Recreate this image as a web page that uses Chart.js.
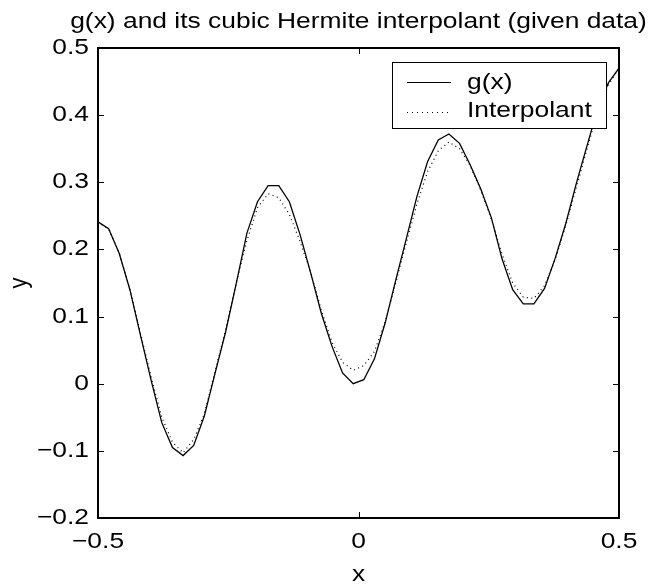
<!DOCTYPE html>
<html>
<head>
<meta charset="utf-8">
<script src="https://cdn.jsdelivr.net/npm/chart.js@4.4.1/dist/chart.umd.min.js"></script>
<style>
  html, body { margin: 0; padding: 0; background: #fff; }
  #wrap { width: 653px; height: 586px; }
</style>
</head>
<body>
<div id="wrap"><canvas id="myChart"></canvas></div>
<script>
// sample points (x), g(x) and the interpolant
var xs = [-0.5, -0.4796, -0.4592, -0.4388, -0.4184, -0.3980, -0.3776, -0.3571, -0.3367, -0.3163,
          -0.2959, -0.2755, -0.2551, -0.2347, -0.2143, -0.1939, -0.1735, -0.1531, -0.1327, -0.1122,
          -0.0918, -0.0714, -0.0510, -0.0306, -0.0102, 0.0102, 0.0306, 0.0510, 0.0714, 0.0918,
          0.1122, 0.1327, 0.1531, 0.1735, 0.1939, 0.2143, 0.2347, 0.2551, 0.2755, 0.2959,
          0.3163, 0.3367, 0.3571, 0.3776, 0.3980, 0.4184, 0.4388, 0.4592, 0.4796, 0.5];
var gValues = [0.241, 0.231, 0.194, 0.140, 0.072, 0.005, -0.058, -0.095, -0.107, -0.092,
               -0.048, 0.015, 0.077, 0.149, 0.224, 0.271, 0.295, 0.295, 0.271, 0.222,
               0.165, 0.105, 0.056, 0.016, 0.000, 0.006, 0.037, 0.090, 0.154, 0.216,
               0.279, 0.331, 0.363, 0.372, 0.358, 0.326, 0.290, 0.247, 0.186, 0.140,
               0.119, 0.119, 0.142, 0.187, 0.239, 0.299, 0.355, 0.410, 0.448, 0.470];
var interpValues = [0.241, 0.230, 0.195, 0.141, 0.075, 0.010, -0.050, -0.087, -0.103, -0.083,
                    -0.045, 0.018, 0.080, 0.150, 0.213, 0.262, 0.283, 0.277, 0.252, 0.212,
                    0.166, 0.110, 0.062, 0.032, 0.020, 0.027, 0.048, 0.092, 0.150, 0.210,
                    0.268, 0.316, 0.347, 0.360, 0.350, 0.325, 0.288, 0.245, 0.193, 0.150,
                    0.129, 0.127, 0.146, 0.185, 0.236, 0.293, 0.350, 0.405, 0.445, 0.470];
var xTicks = [-0.5, 0, 0.5];
var yTicks = [-0.2, -0.1, 0, 0.1, 0.2, 0.3, 0.4, 0.5];
var titleText = 'g(x) and its cubic Hermite interpolant (given data)';
var xLabel = 'x';
var yLabel = 'y';
var legendLabels = ['g(x)', 'Interpolant'];

var FONT = '22px "Liberation Sans", Arial, Helvetica, sans-serif';
var STRETCH = 1.2; // the original text is a bit wide

function fmt(v) {
    var s = String(Math.round(v * 10) / 10);
    return s.charAt(0) == '-' ? '\u2212' + s.slice(1) : s;
}

function toPoints(ys) {
    var pts = [];
    for (var i = 0; i < xs.length; i++) pts.push({x: xs[i], y: ys[i]});
    return pts;
}

function wideText(ctx, text, x, y, align, baseline) {
    ctx.save();
    ctx.translate(x, y);
    ctx.scale(STRETCH, 1);
    ctx.textAlign = align;
    ctx.textBaseline = baseline;
    ctx.fillText(text, 0, 0);
    ctx.restore();
}

// box round the axes, inward ticks, labels, title and legend (matlab look)
var matlabPlugin = {
    id: 'matlab',
    afterDraw: function(chart) {
        var ctx = chart.ctx, a = chart.chartArea;
        var sx = chart.scales.x, sy = chart.scales.y;
        ctx.save();
        ctx.strokeStyle = '#000';
        ctx.lineWidth = 2;
        ctx.strokeRect(Math.round(a.left), Math.round(a.top),
                       Math.round(a.right - a.left), Math.round(a.bottom - a.top));
        ctx.lineWidth = 1;
        ctx.beginPath();
        xTicks.forEach(function(t) {
            var px = Math.round(sx.getPixelForValue(t)) + 0.5;
            ctx.moveTo(px, a.bottom); ctx.lineTo(px, a.bottom - 6);
            ctx.moveTo(px, a.top); ctx.lineTo(px, a.top + 6);
        });
        yTicks.forEach(function(t) {
            var py = Math.round(sy.getPixelForValue(t)) + 0.5;
            ctx.moveTo(a.left, py); ctx.lineTo(a.left + 6, py);
            ctx.moveTo(a.right, py); ctx.lineTo(a.right - 6, py);
        });
        ctx.stroke();

        ctx.fillStyle = '#000';
        ctx.font = FONT;
        xTicks.forEach(function(t) {
            wideText(ctx, fmt(t), sx.getPixelForValue(t), a.bottom + 30, 'center', 'alphabetic');
        });
        yTicks.forEach(function(t) {
            wideText(ctx, fmt(t), a.left - 9, sy.getPixelForValue(t), 'right', 'middle');
        });
        wideText(ctx, xLabel, (a.left + a.right) / 2, a.bottom + 63, 'center', 'alphabetic');
        ctx.save();
        ctx.translate(20, (a.top + a.bottom) / 2);
        ctx.rotate(-Math.PI / 2);
        ctx.scale(1, STRETCH);
        ctx.textAlign = 'center';
        ctx.textBaseline = 'middle';
        ctx.fillText(yLabel, 0, 0);
        ctx.restore();

        // title
        wideText(ctx, titleText, (a.left + a.right) / 2, a.top - 20, 'center', 'alphabetic');

        // legend
        var lx = 392, ly = 62, lw = 214, lh = 66;
        ctx.fillStyle = '#fff';
        ctx.fillRect(lx, ly, lw, lh);
        ctx.lineWidth = 1;
        ctx.strokeRect(lx + 0.5, ly + 0.5, lw, lh);
        ctx.beginPath();
        ctx.moveTo(407, 82.5); ctx.lineTo(451, 82.5);
        ctx.stroke();
        ctx.setLineDash([1, 4]);
        ctx.beginPath();
        ctx.moveTo(407, 112.5); ctx.lineTo(451, 112.5);
        ctx.stroke();
        ctx.setLineDash([]);
        ctx.fillStyle = '#000';
        wideText(ctx, legendLabels[0], 467, 83, 'left', 'middle');
        wideText(ctx, legendLabels[1], 467, 111, 'left', 'middle');
        ctx.restore();
    }
};

var config = {
    type: 'line',
    data: {
        datasets: [{
            label: legendLabels[0],
            data: toPoints(gValues),
            borderColor: '#000',
            borderWidth: 1.3,
            pointRadius: 0,
            tension: 0,
            fill: false
        }, {
            label: legendLabels[1],
            data: toPoints(interpValues),
            borderColor: '#000',
            borderWidth: 1.2,
            borderDash: [1, 3.5],
            pointRadius: 0,
            tension: 0,
            fill: false
        }]
    },
    options: {
        responsive: true,
        maintainAspectRatio: false,
        animation: false,
        layout: { padding: { top: 48, right: 34, left: 0, bottom: 0 } },
        plugins: {
            legend: { display: false },
            title: { display: false },
            tooltip: { enabled: false }
        },
        scales: {
            x: {
                type: 'linear',
                min: -0.5,
                max: 0.5,
                afterBuildTicks: function(scale) {
                    scale.ticks = xTicks.map(function(v) { return {value: v}; });
                },
                afterFit: function(scale) { scale.height = 68; },
                ticks: { display: false },
                grid: { display: false, drawTicks: false },
                border: { display: false }
            },
            y: {
                type: 'linear',
                min: -0.2,
                max: 0.5,
                afterBuildTicks: function(scale) {
                    scale.ticks = yTicks.map(function(v) { return {value: v}; });
                },
                afterFit: function(scale) { scale.width = 98; },
                ticks: { display: false },
                grid: { display: false, drawTicks: false },
                border: { display: false }
            }
        }
    },
    plugins: [matlabPlugin]
};

var myChart = new Chart(document.getElementById('myChart'), config);
</script>
</body>
</html>
